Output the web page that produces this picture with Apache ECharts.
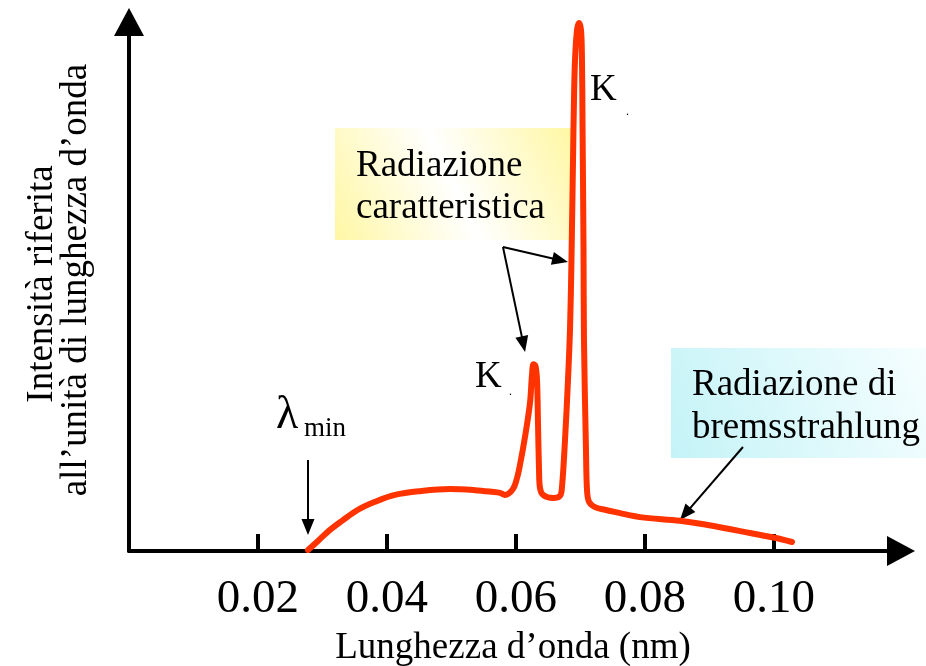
<!DOCTYPE html>
<html>
<head>
<meta charset="utf-8">
<script src="https://cdn.jsdelivr.net/npm/echarts@6/dist/echarts.min.js"></script>
<style>html,body{margin:0;padding:0;background:#fff}#c{width:926px;height:666px}</style>
</head>
<body>
<div id="c"></div>
<script>
// Wavelength (nm) and relative intensity (peak = 100)
const wavelength = [
  0.02775, 0.02930, 0.03116, 0.03302, 0.03550, 0.03814, 0.04124, 0.04512, 0.04977, 0.05364, 0.05628,
  0.05752, 0.05829, 0.05953, 0.06016, 0.06062, 0.06140, 0.06217, 0.06248, 0.06271, 0.06302, 0.06326,
  0.06341, 0.06357, 0.06372, 0.06419, 0.06574, 0.06682, 0.06713, 0.06760, 0.06806, 0.06837, 0.06860,
  0.06884, 0.06899, 0.06915, 0.06946, 0.06977, 0.07008, 0.07023, 0.07031, 0.07047, 0.07054, 0.07085,
  0.07101, 0.07132, 0.07225, 0.07380, 0.07922, 0.08543, 0.09163, 0.09628, 0.10016, 0.10279
];
const intensity = [
  0.2, 1.9, 4.0, 5.7, 7.8, 9.3, 10.6, 11.3, 11.7, 11.5, 11.2,
  11.0, 10.6, 11.7, 13.8, 16.3, 21.6, 28.0, 33.3, 35.3, 35.0, 32.3,
  24.2, 15.3, 11.9, 10.6, 10.0, 10.4, 12.1, 21.0, 32.3, 41.8, 55.0,
  73.9, 85.3, 92.8, 98.5, 99.8, 98.5, 92.8, 81.5, 56.9, 39.9, 19.1,
  11.5, 9.3, 8.3, 7.8, 6.4, 5.7, 4.5, 3.4, 2.5, 1.7
];
const xTicks = [0.02, 0.04, 0.06, 0.08, 0.10];
// annotation arrows: [startX, startY, endX, endY] in data units
const arrowCaratt1 = [0.05798, 57.47, 0.06685, 54.97];
const arrowCaratt2 = [0.05798, 57.47, 0.06115, 39.1];
const arrowLambda = [0.02775, 17.2, 0.02775, 4.54];
const arrowBrems = [0.09519, 19.66, 0.08623, 7.01];

const FONT = '"Liberation Serif", "Times New Roman", serif';
const chart = echarts.init(document.getElementById('c'));

function arrow(a) {
  return [{ coord: [a[0], a[1]] }, { coord: [a[2], a[3]] }];
}
function txt(x, y, text, size, opts) {
  return Object.assign({
    type: 'text', x: x, y: y, z: 100,
    style: Object.assign({ text: text, font: size + 'px ' + FONT, fill: '#000', textAlign: 'left', textVerticalAlign: 'middle' }, (opts && opts.style) || {})
  }, (opts && opts.el) || {});
}

chart.setOption({
  animation: false,
  backgroundColor: '#fff',
  grid: { left: 129, right: 25, top: 22, bottom: 115 },
  xAxis: {
    type: 'value', min: 0, max: 0.11969, interval: 0.02,
    axisLine: { show: true, onZero: false, symbol: ['none', 'triangle'], symbolSize: [30, 28], lineStyle: { color: '#000', width: 4 } },
    axisTick: { show: true, inside: true, length: 17, lineStyle: { color: '#000', width: 4 } },
    axisLabel: {
      show: true, showMinLabel: false, showMaxLabel: false, margin: 25,
      fontFamily: FONT, fontSize: 47, color: '#000',
      formatter: function (v) { return xTicks.some(t => Math.abs(t - v) < 1e-6) ? v.toFixed(2) : ''; }
    },
    splitLine: { show: false }
  },
  yAxis: {
    type: 'value', min: 0, max: 100,
    axisLine: { show: true, symbol: ['none', 'triangle'], symbolSize: [30, 28], lineStyle: { color: '#000', width: 4 } },
    axisTick: { show: false }, axisLabel: { show: false }, splitLine: { show: false }
  },
  graphic: [
    { type: 'rect', z: 1, shape: { x: 335, y: 128, width: 236, height: 112 },
      style: { fill: new echarts.graphic.LinearGradient(0, 1, 1, 0, [
        { offset: 0, color: '#fff7a4' }, { offset: 0.5, color: '#ffffff' }, { offset: 1, color: '#fff7a4' }]) } },
    { type: 'rect', z: 1, shape: { x: 671, y: 348, width: 255, height: 110 },
      style: { fill: new echarts.graphic.LinearGradient(0, 1, 1, 0, [
        { offset: 0, color: '#c4f3f7' }, { offset: 1, color: '#f6feff' }]) } },
    txt(356, 166, 'Radiazione', 37),
    txt(356, 208, 'caratteristica', 37),
    txt(692, 385, 'Radiazione di', 37),
    txt(692, 428, 'bremsstrahlung', 37),
    txt(475, 377, 'K', 37),
    txt(509, 392, '.', 12),
    txt(590, 90, 'K', 37),
    txt(626, 112, '.', 12),
    txt(276, 416, 'λ', 46),
    txt(304, 429, 'min', 27),
    txt(513, 648, 'Lunghezza d\u2019onda (nm)', 37, { style: { textAlign: 'center' } }),
    txt(42, 284, 'Intensità riferita', 37, { style: { textAlign: 'center' }, el: { rotation: Math.PI / 2 } }),
    txt(76, 280, 'all\u2019unità di lunghezza d\u2019onda', 37, { style: { textAlign: 'center' }, el: { rotation: Math.PI / 2 } })
  ],
  series: [{
    type: 'line', z: 5,
    data: wavelength.map((w, i) => [w, intensity[i]]),
    showSymbol: false, smooth: 0.35,
    lineStyle: { color: '#ff3300', width: 6, join: 'round', cap: 'round' },
    markLine: {
      silent: true, symbol: ['none', 'triangle'], symbolSize: [13, 16],
      label: { show: false },
      lineStyle: { color: '#000', width: 2, type: 'solid' },
      data: [arrow(arrowCaratt1), arrow(arrowCaratt2), arrow(arrowLambda), arrow(arrowBrems)]
    }
  }]
});
</script>
</body>
</html>
